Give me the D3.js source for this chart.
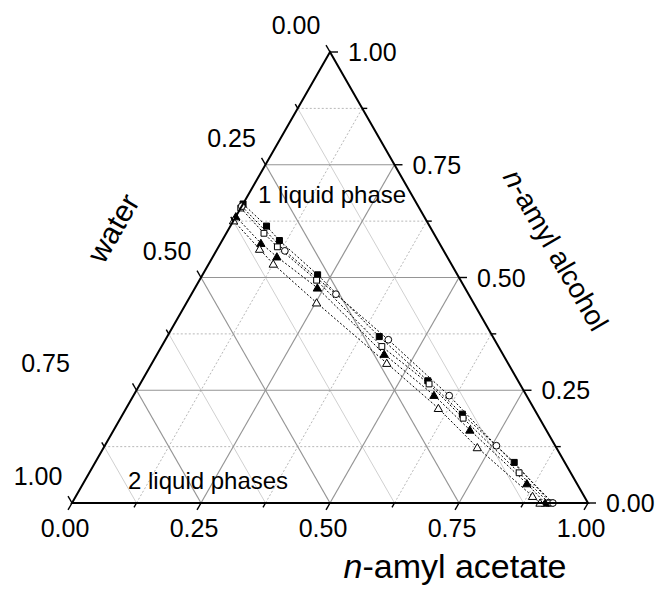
<!DOCTYPE html>
<html>
<head>
<meta charset="utf-8">
<script src="https://cdn.jsdelivr.net/npm/d3@7"></script>
<style>
  html, body { margin: 0; padding: 0; background: #fff; }
  svg { display: block; font-family: Arial, "Liberation Sans", sans-serif; }
</style>
</head>
<body>
<svg id="chart" width="659" height="589"></svg>
<script>
// Ternary phase diagram: water / n-amyl acetate / n-amyl alcohol (mass fractions)
const tickValues = [0, 0.25, 0.5, 0.75, 1];
const tickLabels = ["0.00", "0.25", "0.50", "0.75", "1.00"];
const minorValues = [0.125, 0.375, 0.625, 0.875];

// Binodal series: acetate and alcohol fractions (water = 1 - acetate - alcohol)
const filledSquareAcetate = [0, 0.070, 0.111, 0.223, 0.411, 0.554, 0.658, 0.812, 0.928];
const filledSquareAlcohol = [0.663, 0.614, 0.582, 0.506, 0.369, 0.271, 0.197, 0.090, 0];
const openSquareAcetate   = [0, 0.073, 0.114, 0.227, 0.427, 0.560, 0.664, 0.833, 0.924];
const openSquareAlcohol   = [0.654, 0.598, 0.568, 0.494, 0.347, 0.264, 0.188, 0.067, 0];
const filledTriAcetate    = [0, 0.078, 0.124, 0.237, 0.440, 0.582, 0.690, 0.860, 0.917];
const filledTriAlcohol    = [0.635, 0.576, 0.546, 0.477, 0.330, 0.239, 0.162, 0.043, 0];
const openTriAcetate      = [0, 0.082, 0.125, 0.252, 0.455, 0.605, 0.724, 0.885, 0.907];
const openTriAlcohol      = [0.626, 0.563, 0.530, 0.444, 0.310, 0.210, 0.123, 0.015, 0];
const circleAcetate       = [0, 0.133, 0.280, 0.432, 0.612, 0.759, 0.932];
const circleAlcohol       = [0.658, 0.559, 0.463, 0.362, 0.238, 0.127, 0];

const series = [
  { acetate: filledSquareAcetate, alcohol: filledSquareAlcohol, symbol: d3.symbolSquare, size: 36, fill: "#000" },
  { acetate: openSquareAcetate,   alcohol: openSquareAlcohol,   symbol: d3.symbolSquare, size: 34, fill: "#fff" },
  { acetate: filledTriAcetate,    alcohol: filledTriAlcohol,    symbol: d3.symbolTriangle, size: 30, fill: "#000" },
  { acetate: openTriAcetate,      alcohol: openTriAlcohol,      symbol: d3.symbolTriangle, size: 30, fill: "#fff" },
  { acetate: circleAcetate,       alcohol: circleAlcohol,       symbol: d3.symbolCircle, size: 36, fill: "#fff" }
];

const svg = d3.select("#chart");

// Base runs along acetate, height along alcohol
const xBase = d3.scaleLinear().domain([0, 1]).range([72, 588]);
const yAlc = d3.scaleLinear().domain([0, 1]).range([503, 52]);
const project = (acetate, alcohol) => [xBase(acetate + alcohol / 2), yAlc(alcohol)];

const A = project(0, 0);   // water corner
const B = project(1, 0);   // acetate corner
const C = project(0, 1);   // alcohol corner

// Unit vectors for tick directions
const unit = (p, q) => { const dx = q[0] - p[0], dy = q[1] - p[1], l = Math.hypot(dx, dy); return [dx / l, dy / l]; };
const dirUpLeft = unit(B, C);    // parallel to right edge
const dirDownLeft = unit(C, A);  // parallel to left edge

const grid = svg.append("g");
function gridLines(values, style) {
  values.forEach(v => {
    const h = [project(0, v), project(1 - v, v)];         // constant alcohol
    const k = [project(v, 0), project(v, 1 - v)];         // constant acetate
    const w = [project(1 - v, 0), project(0, 1 - v)];     // constant water
    [[h, style.alcohol], [k, style.acetate], [w, style.water]].forEach(([seg, st]) => {
      grid.append("line")
        .attr("x1", seg[0][0]).attr("y1", seg[0][1])
        .attr("x2", seg[1][0]).attr("y2", seg[1][1])
        .attr("stroke", st.color).attr("stroke-width", st.width)
        .attr("stroke-dasharray", st.dash || null);
    });
  });
}
gridLines(minorValues, {
  alcohol: { color: "#b8b8b8", width: 1, dash: "2,2" },
  acetate: { color: "#b8b8b8", width: 1, dash: "2,2" },
  water:   { color: "#d0d0d0", width: 1 }
});
gridLines([0.25, 0.5, 0.75], {
  alcohol: { color: "#959595", width: 1.2 },
  acetate: { color: "#959595", width: 1.2 },
  water:   { color: "#959595", width: 1.2 }
});

// Series: dotted connecting lines then markers
const line = d3.line().x(d => d[0]).y(d => d[1]);
const plot = svg.append("g");
series.forEach(s => {
  const pts = s.acetate.map((b, i) => project(b, s.alcohol[i]));
  plot.append("path").attr("d", line(pts))
    .attr("fill", "none").attr("stroke", "#000")
    .attr("stroke-width", 1).attr("stroke-dasharray", "2,2");
});
series.forEach(s => {
  const pts = s.acetate.map((b, i) => project(b, s.alcohol[i]));
  const sym = d3.symbol().type(s.symbol).size(s.size);
  plot.selectAll(null).data(pts).enter().append("path")
    .attr("d", sym)
    .attr("transform", d => `translate(${d[0]},${d[1] + (s.symbol === d3.symbolTriangle ? 0.8 : 0)})`)
    .attr("fill", s.fill).attr("stroke", "#000").attr("stroke-width", 1);
});

// Frame
svg.append("path")
  .attr("d", `M${A[0]},${A[1]}L${B[0]},${B[1]}L${C[0]},${C[1]}Z`)
  .attr("fill", "none").attr("stroke", "#000").attr("stroke-width", 2).attr("stroke-linejoin", "miter");

// Ticks
const ticks = svg.append("g").attr("stroke", "#000").attr("stroke-width", 1.4);
const allTicks = tickValues.map(v => ({ v, len: 8 })).concat(minorValues.map(v => ({ v, len: 5 })));
allTicks.forEach(({ v, len }) => {
  const pb = project(v, 0);               // acetate, pointing down-left
  ticks.append("line").attr("x1", pb[0]).attr("y1", pb[1])
    .attr("x2", pb[0] + dirDownLeft[0] * len).attr("y2", pb[1] + dirDownLeft[1] * len);
  const pr = project(1 - v, v);           // alcohol, pointing right
  ticks.append("line").attr("x1", pr[0]).attr("y1", pr[1])
    .attr("x2", pr[0] + len).attr("y2", pr[1]);
  const pl = project(0, 1 - v);           // water, pointing up-left
  ticks.append("line").attr("x1", pl[0]).attr("y1", pl[1])
    .attr("x2", pl[0] + dirUpLeft[0] * len).attr("y2", pl[1] + dirUpLeft[1] * len);
});

// Tick labels
const labels = svg.append("g").attr("font-size", 25).attr("fill", "#000");
const waterLabelShift = [0, 0, 0, -57, 0];
tickValues.forEach((v, i) => {
  const pb = project(v, 0);
  labels.append("text").attr("x", pb[0] - 7).attr("y", pb[1] + 34)
    .attr("text-anchor", "middle").text(tickLabels[i]);
  const pr = project(1 - v, v);
  labels.append("text").attr("x", pr[0] + 18).attr("y", pr[1] + 9)
    .attr("text-anchor", "start").text(tickLabels[i]);
  const pl = project(0, 1 - v);
  labels.append("text").attr("x", pl[0] - 34 + waterLabelShift[i]).attr("y", pl[1] - 18)
    .attr("text-anchor", "middle").text(tickLabels[i]);
});

// Axis titles
const titles = svg.append("g").attr("fill", "#000");
titles.append("text").attr("font-size", 30)
  .attr("transform", "translate(113,228) rotate(-60)")
  .attr("text-anchor", "middle").attr("dy", "0.35em").text("water");
const alc = titles.append("text").attr("font-size", 28)
  .attr("transform", "translate(556,250) rotate(60)")
  .attr("text-anchor", "middle").attr("dy", "0.35em");
alc.append("tspan").attr("font-style", "italic").text("n");
alc.append("tspan").text("-amyl alcohol");
const ace = titles.append("text").attr("font-size", 34)
  .attr("x", 455).attr("y", 578).attr("text-anchor", "middle");
ace.append("tspan").attr("font-style", "italic").text("n");
ace.append("tspan").text("-amyl acetate");

// Region annotations
const notes = svg.append("g").attr("font-size", 24).attr("fill", "#000");
notes.append("text").attr("x", 258).attr("y", 203).text("1 liquid phase");
notes.append("text").attr("x", 128).attr("y", 489).text("2 liquid phases");
</script>
</body>
</html>
